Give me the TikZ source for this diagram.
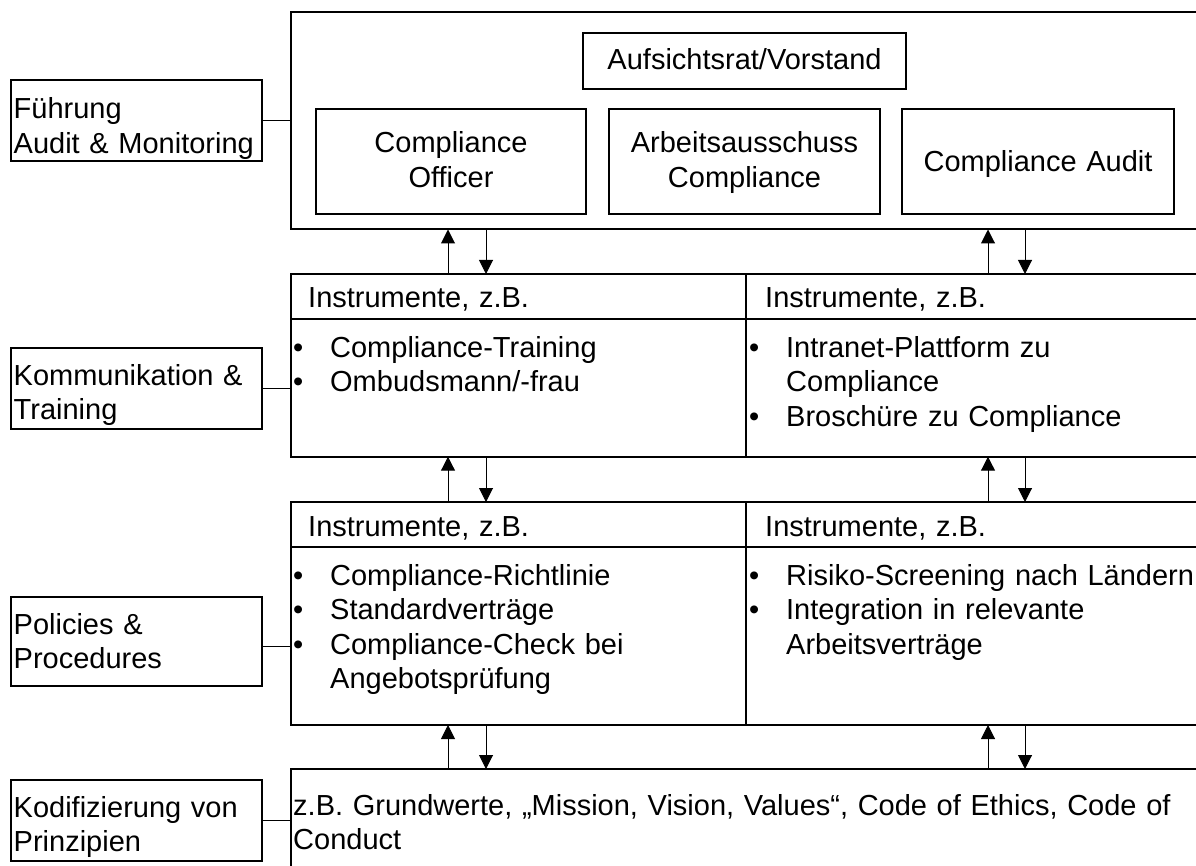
\documentclass[tikz,border=0pt]{standalone}
\usepackage{fontspec}
\setmainfont{Liberation Sans}
\usetikzlibrary{arrows.meta}
\begin{document}
\begin{tikzpicture}[x=1pt,y=-1pt,
  box/.style={draw, line width=2pt, rectangle, inner sep=0pt, outer sep=0pt, anchor=north west},
  txt/.style={inner sep=0pt, anchor=base west, align=left, text width=950pt,
              font=\fontsize{29}{34.5}\selectfont},
  ctxt/.style={inner sep=0pt, anchor=base, align=center, text width=300pt,
              font=\fontsize{29}{35}\selectfont},
  link/.style={line width=1pt},
  arr/.style={line width=1pt, -{Triangle[width=14pt,length=14pt]}}]
\newcommand{\bul}{\makebox[37pt][l]{•}}
\newcommand{\ind}{\hspace*{37pt}}
\useasboundingbox (0,0) rectangle (1196,866);
\clip (0,0) rectangle (1196,866);

% left-hand category boxes
\node[box, minimum width=251pt, minimum height=81pt] (fuehr) at (11,80) {};
\node[box, minimum width=251pt, minimum height=81pt] (komm) at (11,348) {};
\node[box, minimum width=251pt, minimum height=89pt] (pol) at (11,597) {};
\node[box, minimum width=251pt, minimum height=81pt] (kodi) at (11,780) {};
\node[txt] (tfuehr) at (13.5,119) {Führung\\Audit \& Monitoring};
\node[txt] (tkomm) at (13.5,385) {Kommunikation \&\\Training};
\node[txt] (tpol) at (13.5,634) {Policies \&\\Procedures};
\node[txt] (tkodi) at (13.5,817) {Kodifizierung von\\Prinzipien};

% top block: governance
\node[box, minimum width=949pt, minimum height=217.5pt] (top) at (291,12) {};
\node[box, minimum width=323pt, minimum height=56pt] (aufs) at (583,33) {};
\node[box, minimum width=270pt, minimum height=105pt] (co) at (316,109) {};
\node[box, minimum width=271pt, minimum height=105pt] (aa) at (609,109) {};
\node[box, minimum width=272pt, minimum height=105pt] (ca) at (902,109) {};
\node[ctxt] (taufs) at (744.5,70) {Aufsichtsrat/Vorstand};
\node[ctxt] (tco) at (451,153) {Compliance\\Officer};
\node[ctxt] (taa) at (744.5,153) {Arbeitsausschuss\\Compliance};
\node[ctxt] (tca) at (1038,172) {Compliance Audit};

% communication & training row
\node[box, minimum width=455pt, minimum height=45pt] (r2hl) at (291,274) {};
\node[box, minimum width=494pt, minimum height=45pt] (r2hr) at (746,274) {};
\node[box, minimum width=455pt, minimum height=137.7pt] (r2bl) at (291,319) {};
\node[box, minimum width=494pt, minimum height=137.7pt] (r2br) at (746,319) {};
\node[txt] (t2hl) at (308,308) {Instrumente, z.B.};
\node[txt] (t2hr) at (765,308) {Instrumente, z.B.};
\node[txt] (t2bl) at (293,357) {\bul Compliance-Training\\\bul Ombudsmann/-frau};
\node[txt] (t2br) at (749,357) {\bul Intranet-Plattform zu\\\ind Compliance\\\bul Broschüre zu Compliance};

% policies & procedures row
\node[box, minimum width=455pt, minimum height=45pt] (r3hl) at (291,502) {};
\node[box, minimum width=494pt, minimum height=45pt] (r3hr) at (746,502) {};
\node[box, minimum width=455pt, minimum height=178pt] (r3bl) at (291,547) {};
\node[box, minimum width=494pt, minimum height=178pt] (r3br) at (746,547) {};
\node[txt] (t3hl) at (308,536) {Instrumente, z.B.};
\node[txt] (t3hr) at (765,536) {Instrumente, z.B.};
\node[txt] (t3bl) at (293,585) {\bul Compliance-Richtlinie\\\bul Standardverträge\\\bul Compliance-Check bei\\\ind Angebotsprüfung};
\node[txt] (t3br) at (749,585) {\bul Risiko-Screening nach Ländern\\\bul Integration in relevante\\\ind Arbeitsverträge};

% codification row
\node[box, minimum width=949pt, minimum height=200pt] (r4) at (291,769) {};
\node[txt] (t4) at (293,815) {z.B. Grundwerte, „Mission, Vision, Values“, Code of Ethics, Code of\\Conduct};

% links from categories to blocks
\draw[link] (fuehr.east) -- (fuehr.east -| top.west);
\draw[link] (komm.east) -- (komm.east -| r2bl.west);
\draw[link] ([yshift=-4.5pt]pol.east) -- ([yshift=-4.5pt]pol.east -| r3bl.west);
\draw[link] (kodi.east) -- (kodi.east -| r4.west);

% vertical exchange arrows
\coordinate (xa) at (448,0);
\coordinate (xb) at (486,0);
\coordinate (xc) at (988,0);
\coordinate (xd) at (1025,0);
\draw[arr] (r2hl.north -| xa) -- (top.south -| xa);
\draw[arr] (top.south -| xb) -- (r2hl.north -| xb);
\draw[arr] (r2hr.north -| xc) -- (top.south -| xc);
\draw[arr] (top.south -| xd) -- (r2hr.north -| xd);
\draw[arr] (r3hl.north -| xa) -- (r2bl.south -| xa);
\draw[arr] (r2bl.south -| xb) -- (r3hl.north -| xb);
\draw[arr] (r3hr.north -| xc) -- (r2br.south -| xc);
\draw[arr] (r2br.south -| xd) -- (r3hr.north -| xd);
\draw[arr] (r4.north -| xa) -- (r3bl.south -| xa);
\draw[arr] (r3bl.south -| xb) -- (r4.north -| xb);
\draw[arr] (r4.north -| xc) -- (r3br.south -| xc);
\draw[arr] (r3br.south -| xd) -- (r4.north -| xd);
\end{tikzpicture}
\end{document}
